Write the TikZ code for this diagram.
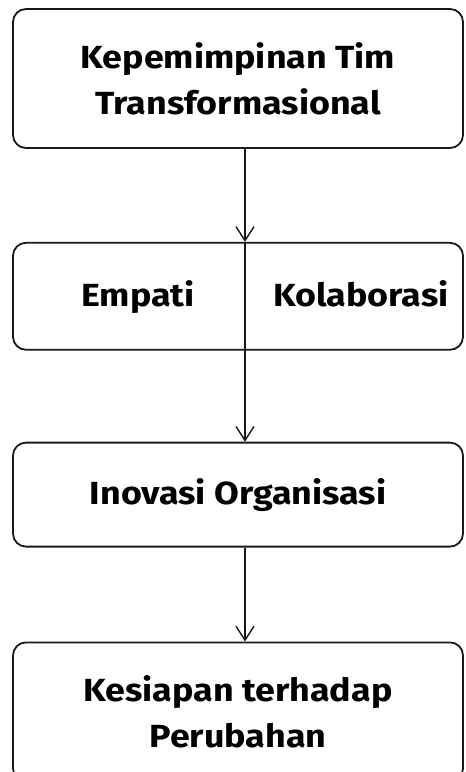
\documentclass[tikz,border=0pt]{standalone}
\usepackage{fontspec}
\setmainfont{Fira Sans}[FakeStretch=1.12]
\usetikzlibrary{arrows.meta, positioning}
\tikzset{
  node distance=93pt,
  >={Straight Barb[length=14pt, width=18pt]},
  box/.style={rectangle, rounded corners=13pt, draw=black!90, line width=1.8pt,
              minimum width=450pt, align=center, inner sep=0pt,
              font=\fontsize{32}{46}\selectfont\bfseries},
  flow/.style={->, line width=1.4pt, draw=black!90},
  lbl/.style={inner sep=0pt, anchor=base, font=\fontsize{32}{46}\selectfont\bfseries},
}

\begin{document}
\begin{tikzpicture}[x=1pt, y=-1pt]
    \useasboundingbox (0,0) rectangle (466,772);
    % the four stages
    \node[box, minimum height=139pt] (lead) at (238,78.5) {Kepemimpinan Tim\\Transformasional};
    \node[box, minimum height=107pt, below=93pt of lead] (mid) {};
    \node[box, minimum height=104pt, below=91pt of mid] (inov) {Inovasi Organisasi};
    \node[box, minimum height=139pt, below=94pt of inov] (ready) {Kesiapan terhadap\\Perubahan};

    % two halves of the middle box
    \node[lbl] (empati) at (138,306) {Empati};
    \node[lbl] (kolab) at (361,306) {Kolaborasi};

    % arrows run down one axis
    \coordinate (axis) at (245,0);
    \draw[flow] (lead.south -| axis) -- (mid.north -| axis);
    \draw[flow] (mid.north -| axis) -- (inov.north -| axis);
    \draw[flow] (inov.south -| axis) -- (ready.north -| axis);
  \end{tikzpicture}
\end{document}
